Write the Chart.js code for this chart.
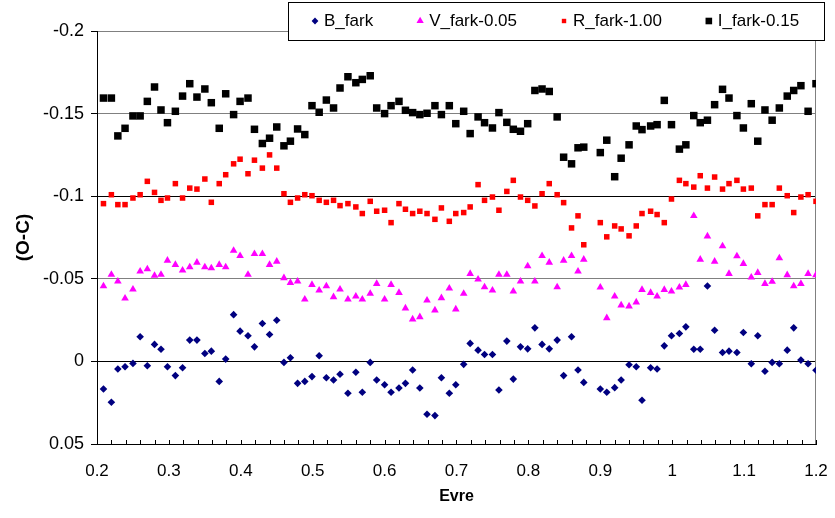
<!DOCTYPE html>
<html>
<head>
<meta charset="utf-8">
<title>(O-C) - Evre</title>
<script src="https://cdn.jsdelivr.net/npm/chart.js@4.4.1/dist/chart.umd.min.js"></script>
<style>
  html, body { margin: 0; padding: 0; background: #fff; }
  #wrap { width: 835px; height: 518px; position: relative; }
</style>
</head>
<body>
<div id="wrap"><canvas id="ocChart"></canvas></div>
<script>
// phase (Evre) of each observation, shared by all four filters
const phase = [
  0.209, 0.220, 0.229, 0.239, 0.250, 0.260, 0.270, 0.280, 0.289, 0.298,
  0.309, 0.319, 0.329, 0.339, 0.350, 0.359, 0.370, 0.379, 0.390, 0.399,
  0.410, 0.419, 0.430, 0.440, 0.450, 0.460, 0.469, 0.479, 0.489, 0.499,
  0.509, 0.519, 0.529, 0.538, 0.549, 0.560, 0.569, 0.580, 0.589, 0.600,
  0.609, 0.620, 0.629, 0.639, 0.649, 0.659, 0.670, 0.679, 0.690, 0.699,
  0.710, 0.719, 0.730, 0.739, 0.750, 0.759, 0.770, 0.779, 0.789, 0.799,
  0.809, 0.819, 0.829, 0.840, 0.849, 0.860, 0.869, 0.877,
  0.900, 0.909, 0.920, 0.929, 0.940, 0.950, 0.958, 0.970, 0.979, 0.989,
  0.999, 1.010, 1.019, 1.030, 1.039, 1.049, 1.059, 1.070, 1.079, 1.090,
  1.099, 1.110, 1.119, 1.129, 1.139, 1.149, 1.160, 1.169, 1.179, 1.189, 1.200
];

// O-C residuals per filter
const bFark = [
  0.0167, 0.0247, 0.0046, 0.0032, 0.0012, -0.0149, 0.0026, -0.0103, -0.0074, 0.0032,
  0.0086, 0.0038, -0.0129, -0.0129, -0.0048, -0.0062, 0.0121, -0.0014, -0.0283, -0.0183,
  -0.0155, -0.0088, -0.0229, -0.0163, -0.0249, 0.0006, -0.0022, 0.0133, 0.0121, 0.0092,
  -0.0034, 0.0099, 0.0113, 0.0078, 0.0193, 0.0066, 0.0187, 0.0006, 0.0113, 0.0141,
  0.0187, 0.0161, 0.0133, 0.0052, 0.0161, 0.0320, 0.0328, 0.0099, 0.0193, 0.0141,
  0.0018, -0.0109, -0.0068, -0.0042, -0.0042, 0.0173, -0.0123, 0.0107, -0.0088, -0.0076,
  -0.0203, -0.0103, -0.0076, -0.0129, 0.0086, -0.0149, 0.0052, 0.0127,
  0.0167, 0.0187, 0.0159, 0.0113, 0.0020, 0.0032, 0.0235, 0.0038, 0.0046, -0.0094,
  -0.0155, -0.0169, -0.0209, -0.0074, -0.0074, -0.0456, -0.0189, -0.0054, -0.0062, -0.0054,
  -0.0175, 0.0014, -0.0155, 0.0060, 0.0006, 0.0014, -0.0068, -0.0203, -0.0008, 0.0014, 0.0054
];

const vFark = [
  -0.0456, -0.0525, -0.0485, -0.0382, -0.0436, -0.0545, -0.0559, -0.0519, -0.0525, -0.0611,
  -0.0585, -0.0551, -0.0571, -0.0599, -0.0571, -0.0565, -0.0585, -0.0571, -0.0671, -0.0639,
  -0.0525, -0.0651, -0.0651, -0.0585, -0.0605, -0.0505, -0.0476, -0.0485, -0.0376, -0.0464,
  -0.0430, -0.0456, -0.0390, -0.0436, -0.0376, -0.0394, -0.0376, -0.0410, -0.0470, -0.0376,
  -0.0464, -0.0416, -0.0322, -0.0255, -0.0269, -0.0370, -0.0310, -0.0384, -0.0442, -0.0316,
  -0.0410, -0.0531, -0.0497, -0.0450, -0.0430, -0.0525, -0.0525, -0.0424, -0.0485, -0.0577,
  -0.0485, -0.0639, -0.0599, -0.0450, -0.0611, -0.0639, -0.0545, -0.0617,
  -0.0448, -0.0263, -0.0394, -0.0340, -0.0334, -0.0358, -0.0434, -0.0416, -0.0394, -0.0434,
  -0.0424, -0.0448, -0.0464, -0.0881, -0.0617, -0.0758, -0.0605, -0.0698, -0.0531, -0.0637,
  -0.0591, -0.0509, -0.0537, -0.0470, -0.0483, -0.0625, -0.0523, -0.0456, -0.0470, -0.0531, -0.0523
];

const rFark = [
  -0.0955, -0.1009, -0.0949, -0.0949, -0.0989, -0.1009, -0.1090, -0.1023, -0.0975, -0.0989,
  -0.1076, -0.0989, -0.1049, -0.1043, -0.1104, -0.0963, -0.1076, -0.1130, -0.1196, -0.1224,
  -0.1136, -0.1218, -0.1170, -0.1250, -0.1170, -0.1015, -0.0963, -0.0989, -0.1009, -0.1003,
  -0.0975, -0.0963, -0.0975, -0.0943, -0.0955, -0.0935, -0.0895, -0.0969, -0.0909, -0.0915,
  -0.0840, -0.0955, -0.0921, -0.0895, -0.0909, -0.0895, -0.0860, -0.0929, -0.0848, -0.0895,
  -0.0901, -0.0935, -0.1070, -0.0975, -0.0995, -0.0915, -0.1029, -0.1096, -0.0995, -0.0975,
  -0.0941, -0.1015, -0.1076, -0.1009, -0.0961, -0.0808, -0.0881, -0.0706,
  -0.0840, -0.0754, -0.0820, -0.0802, -0.0760, -0.0820, -0.0895, -0.0909, -0.0889, -0.0840,
  -0.0983, -0.1096, -0.1076, -0.1055, -0.1124, -0.1049, -0.1116, -0.1043, -0.1076, -0.1096,
  -0.1043, -0.1049, -0.0881, -0.0949, -0.0949, -0.1049, -0.1003, -0.0901, -0.0995, -0.1009, -0.0969
];

const iFark = [
  -0.1594, -0.1594, -0.1365, -0.1411, -0.1486, -0.1486, -0.1574, -0.1661, -0.1522, -0.1445,
  -0.1514, -0.1606, -0.1681, -0.1600, -0.1649, -0.1566, -0.1411, -0.1620, -0.1494, -0.1574,
  -0.1594, -0.1405, -0.1319, -0.1351, -0.1419, -0.1305, -0.1333, -0.1407, -0.1373, -0.1548,
  -0.1508, -0.1582, -0.1534, -0.1655, -0.1723, -0.1687, -0.1707, -0.1729, -0.1534, -0.1500,
  -0.1548, -0.1574, -0.1520, -0.1506, -0.1494, -0.1502, -0.1548, -0.1494, -0.1548, -0.1439,
  -0.1514, -0.1379, -0.1480, -0.1445, -0.1413, -0.1506, -0.1447, -0.1405, -0.1393, -0.1439,
  -0.1640, -0.1649, -0.1634, -0.1480, -0.1236, -0.1196, -0.1293, -0.1297,
  -0.1264, -0.1339, -0.1118, -0.1230, -0.1311, -0.1425, -0.1403, -0.1425, -0.1433, -0.1580,
  -0.1433, -0.1285, -0.1311, -0.1488, -0.1445, -0.1460, -0.1554, -0.1647, -0.1594, -0.1488,
  -0.1413, -0.1560, -0.1333, -0.1522, -0.1460, -0.1534, -0.1606, -0.1640, -0.1669, -0.1514, -0.1681
];

const seriesNames = ['B_fark', 'V_fark-0.05', 'R_fark-1.00', 'I_fark-0.15'];
const yTickValues = [-0.2, -0.15, -0.1, -0.05, 0, 0.05];
const xTickLabels = ['0.2', '0.3', '0.4', '0.5', '0.6', '0.7', '0.8', '0.9', '1', '1.1', '1.2'];

const SANS = "'Liberation Sans', Arial, sans-serif";

function toPoints(values) {
  return values.map((v, i) => ({ x: phase[i], y: v }));
}

// small marker painter for the legend box
function drawMarker(ctx, style, color, x, y, r) {
  ctx.save();
  ctx.fillStyle = color;
  ctx.beginPath();
  if (style === 'rectRot') {
    ctx.moveTo(x, y - r); ctx.lineTo(x + r, y); ctx.lineTo(x, y + r); ctx.lineTo(x - r, y);
  } else if (style === 'triangle') {
    ctx.moveTo(x, y - r); ctx.lineTo(x + r * 0.866, y + r * 0.5); ctx.lineTo(x - r * 0.866, y + r * 0.5);
  } else {
    ctx.rect(x - r, y - r, 2 * r, 2 * r);
  }
  ctx.closePath();
  ctx.fill();
  ctx.restore();
}

// plot frame (right side), inward minor ticks on x, and the boxed legend
const excelLook = {
  id: 'excelLook',
  beforeDatasetsDraw(chart) {
    const { ctx, chartArea: a, scales } = chart;
    ctx.save();
    ctx.strokeStyle = '#808080';
    ctx.lineWidth = 1;
    ctx.beginPath();
    ctx.moveTo(Math.round(a.right) - 0.5, a.top);
    ctx.lineTo(Math.round(a.right) - 0.5, a.bottom);
    ctx.stroke();
    ctx.strokeStyle = '#000';
    ctx.beginPath();
    scales.x.ticks.forEach(t => {
      const px = Math.round(scales.x.getPixelForValue(t.value)) + 0.5;
      ctx.moveTo(px, a.bottom);
      ctx.lineTo(px, a.bottom - 4);
    });
    ctx.stroke();
    ctx.restore();
  },
  afterDraw(chart) {
    const ctx = chart.ctx;
    ctx.save();
    ctx.fillStyle = '#fff';
    ctx.fillRect(288, 2, 536, 38);
    ctx.strokeStyle = '#000';
    ctx.lineWidth = 1;
    ctx.strokeRect(288.5, 2.5, 536, 38);
    ctx.font = '17px ' + SANS;
    ctx.textBaseline = 'middle';
    let cx = 315;
    const legendR = [3.4, 4.2, 2.2, 3.3];
    chart.data.datasets.forEach((ds, i) => {
      drawMarker(ctx, ds.pointStyle, ds.backgroundColor, cx, 21, legendR[i]);
      ctx.fillStyle = '#000';
      ctx.fillText(ds.label, cx + 9, 21);
      cx += 9 + ctx.measureText(ds.label).width + 47;
    });
    ctx.restore();
  }
};

function createOcChart() {
  const ctx = document.getElementById('ocChart').getContext('2d');

  new Chart(ctx, {
    type: 'scatter',
    data: {
      datasets: [
        { label: seriesNames[0], data: toPoints(bFark), pointStyle: 'rectRot', pointRadius: 3.8,
          backgroundColor: '#000080', borderColor: '#000080', pointBorderWidth: 0 },
        { label: seriesNames[1], data: toPoints(vFark), pointStyle: 'triangle', pointRadius: 4.4,
          backgroundColor: '#FF00FF', borderColor: '#FF00FF', pointBorderWidth: 0 },
        { label: seriesNames[2], data: toPoints(rFark), pointStyle: 'rect', pointRadius: 3.9,
          backgroundColor: '#FF0000', borderColor: '#FF0000', pointBorderWidth: 0 },
        { label: seriesNames[3], data: toPoints(iFark), pointStyle: 'rect', pointRadius: 5.3,
          backgroundColor: '#000000', borderColor: '#000000', pointBorderWidth: 0 }
      ]
    },
    options: {
      responsive: true,
      maintainAspectRatio: false,
      animation: false,
      events: [],
      layout: { padding: { top: 31, right: 19, bottom: 0, left: 0 } },
      plugins: {
        legend: { display: false },
        tooltip: { enabled: false }
      },
      scales: {
        x: {
          type: 'linear',
          min: 0.2,
          max: 1.2,
          afterFit: s => { s.height = 74; s.paddingLeft = 0; s.paddingRight = 0; },
          ticks: {
            stepSize: 0.02,
            autoSkip: false,
            maxRotation: 0,
            padding: 17,
            color: '#000',
            font: { family: SANS, size: 17 },
            callback: v => {
              const lbl = String(Number(v.toFixed(2)));
              return xTickLabels.includes(lbl) ? lbl : '';
            }
          },
          grid: { drawOnChartArea: false, drawTicks: false },
          border: { color: '#000', width: 1 },
          title: {
            display: true,
            text: 'Evre',
            color: '#000',
            font: { family: SANS, size: 16, weight: 'bold' },
            padding: { top: 0, bottom: 12 }
          }
        },
        y: {
          type: 'linear',
          reverse: true,
          min: -0.2,
          max: 0.05,
          afterFit: s => { s.width = 97; },
          afterBuildTicks: s => { s.ticks = yTickValues.map(v => ({ value: v })); },
          ticks: {
            padding: 7,
            color: '#000',
            font: { family: SANS, size: 18 },
            callback: v => String(Number(Number(v).toFixed(2)))
          },
          grid: {
            color: c => (c.tick && (Math.abs(c.tick.value) < 1e-9 || Math.abs(c.tick.value + 0.1) < 1e-9)) ? '#000' : '#808080',
            lineWidth: 1,
            drawTicks: true,
            tickLength: 6,
            tickColor: '#000'
          },
          border: { color: '#000', width: 1 },
          title: {
            display: true,
            text: '(O-C)',
            color: '#000',
            font: { family: SANS, size: 19, weight: 'bold' },
            padding: { top: 12, bottom: 0 }
          }
        }
      }
    },
    plugins: [excelLook]
  });
}

window.onload = function() {
  createOcChart();
};
</script>
</body>
</html>
